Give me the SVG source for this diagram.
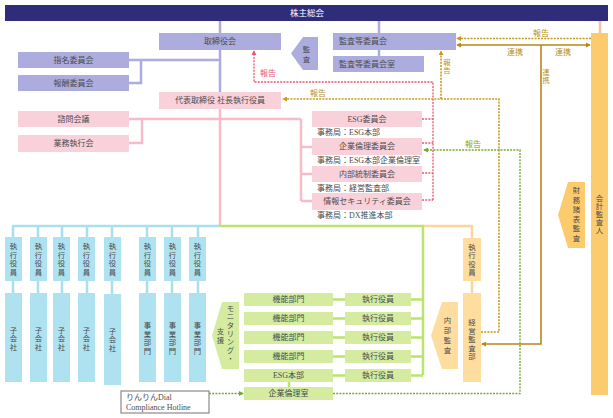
<svg xmlns="http://www.w3.org/2000/svg" width="613" height="418" viewBox="0 0 613 418">
<style>
.t{font-family:"Liberation Serif","Noto Sans CJK JP",serif;font-size:8px;fill:#4d4d4d;text-anchor:middle;dominant-baseline:central}
.s{text-anchor:start}
.vt{font-size:7.4px}
.w{fill:#ffffff;font-size:8.5px}
.pu{fill:#acacdf}
.pk{fill:#f9d1db}
.bl{fill:#aee2f1}
.gr{fill:#d5eca0}
.or{fill:#fccb6e}
.pe{fill:#fedd9f}
.l{fill:none;stroke-width:2.5}
.lpu{stroke:#acacdf}
.lpk{stroke:#f6bcc9}
.lbl{stroke:#a9dff0}
.lgr{stroke:#bce36c}
.lpe{stroke:#fbd59a}
.lsa{stroke:#f8c2a2}
.dg{fill:none;stroke:#c9981f;stroke-width:1.6;stroke-dasharray:2 1.2}
.dr{fill:none;stroke:#e85470;stroke-width:1.3;stroke-dasharray:2 1.2}
.dn{fill:none;stroke:#7aa82c;stroke-width:1.4;stroke-dasharray:2 1.2}
.sg{fill:none;stroke:#b8861c;stroke-width:1.6}
.cg{fill:#b8901e}
.cr{fill:#e85470}
.cn{fill:#7aa82c}
</style>
<defs>
<marker id="ag" viewBox="0 0 6 6" refX="5" refY="3" markerWidth="5" markerHeight="5" markerUnits="userSpaceOnUse" orient="auto-start-reverse"><path d="M0,0 L6,3 L0,6 z" fill="#c9981f"/></marker>
<marker id="as" viewBox="0 0 6 6" refX="5" refY="3" markerWidth="5" markerHeight="5" markerUnits="userSpaceOnUse" orient="auto-start-reverse"><path d="M0,0 L6,3 L0,6 z" fill="#b8861c"/></marker>
<marker id="ar" viewBox="0 0 6 6" refX="5" refY="3" markerWidth="5" markerHeight="5" markerUnits="userSpaceOnUse" orient="auto-start-reverse"><path d="M0,0 L6,3 L0,6 z" fill="#e85470"/></marker>
<marker id="an" viewBox="0 0 6 6" refX="5" refY="3" markerWidth="5" markerHeight="5" markerUnits="userSpaceOnUse" orient="auto-start-reverse"><path d="M0,0 L6,3 L0,6 z" fill="#7aa82c"/></marker>
</defs>
<rect width="613" height="418" fill="#ffffff"/>

<g id="connectors">
<path class="l lpu" d="M220,21 V92 M129,60 H220 M129,83 H141 V60 M379,21 V33 M379,50 V56"/>
<path class="l lsa" d="M600,21 V33"/>
<path class="l lpk" d="M220,109 V226 M129,119 H301 M129,143 H142 V119 M301,119 V201 M301,147 H312 M301,174 H312 M301,201 H312"/>
<path class="l lbl" d="M12,226 H220 M13,226 V237 M38,226 V237 M62,226 V237 M87,226 V237 M112,226 V237 M147,226 V237 M172,226 V237 M198,226 V237 M13,281 V293 M38,281 V293 M62,281 V293 M87,281 V293 M112,281 V294 M147,281 V293 M172,281 V293 M198,281 V293"/>
<path class="l lgr" d="M220,226 H423 V375 M411,299.5 H423 M411,318.5 H423 M411,337.5 H423 M411,356.5 H423 M411,375.5 H423 M333,299.5 H345 M333,318.5 H345 M333,337.5 H345 M333,356.5 H345 M333,375.5 H345 M289,382 V387"/>
<path class="l lpe" d="M424,226 H472 V238 M472,281 V293"/>
<path class="dr" d="M433,200 V82 H254 V51" marker-end="url(#ar)"/>
<path class="dr" d="M422,119 H433 M422,143 H433 M422,173 H433 M422,200 H433"/>
<path class="dg" d="M481,332 H499 V99 H283" marker-end="url(#ag)"/>
<path class="dg" d="M441,99 V51" marker-end="url(#ag)"/>
<path class="dg" d="M591,38.5 H457" marker-end="url(#ag)"/>
<path class="sg" d="M457,45 H590" marker-start="url(#as)" marker-end="url(#as)"/>
<path class="sg" d="M541,45 V344 H482" marker-end="url(#as)"/>
<path class="dn" d="M333,393.5 H520 V150 H424" marker-end="url(#an)"/>
<path class="dn" d="M209,393.5 H243" marker-end="url(#an)"/>
</g>

<g id="labels">
<text class="t cr" x="268" y="73">報告</text>
<text class="t cg" x="318" y="93">報告</text>
<text class="t vt cg"><tspan x="447" y="61.75">報</tspan><tspan x="447" y="70.25">告</tspan></text>
<text class="t cg" x="541" y="33">報告</text>
<text class="t cg" x="515" y="52">連携</text>
<text class="t cg" x="563" y="52">連携</text>
<text class="t vt cg"><tspan x="546" y="71.75">連</tspan><tspan x="546" y="80.25">携</tspan></text>
<text class="t cn" x="473" y="144">報告</text>
</g>

<g id="shareholders"><rect x="5" y="5" width="603" height="16" fill="#2f2d7a"/><text class="t w" x="307" y="13">株主総会</text></g>
<g id="board"><rect class="pu" x="159" y="33" width="122" height="17"/><text class="t" x="220" y="41.5">取締役会</text></g>
<g id="nomination"><rect class="pu" x="18" y="52" width="111" height="16"/><text class="t" x="73.5" y="60">指名委員会</text></g>
<g id="compensation"><rect class="pu" x="18" y="75" width="111" height="16"/><text class="t" x="73.5" y="83">報酬委員会</text></g>
<g id="audit-arrow"><polygon class="pu" points="303,37 318,37 318,70 303,70 291,53.5"/><text class="t vt"><tspan x="306.5" y="48.5">監</tspan><tspan x="306.5" y="58.5">査</tspan></text></g>
<g id="audit-committee"><rect class="pu" x="333" y="33" width="123" height="17"/><text class="t s" x="339" y="41.5">監査等委員会</text></g>
<g id="audit-office"><rect class="pu" x="333" y="56" width="91" height="16"/><text class="t s" x="339" y="64">監査等委員会室</text></g>
<g id="accounting-auditor"><rect class="or" x="591" y="33" width="17" height="362"/><text class="t vt"><tspan x="599.5" y="198">会</tspan><tspan x="599.5" y="206">計</tspan><tspan x="599.5" y="214">監</tspan><tspan x="599.5" y="222">査</tspan><tspan x="599.5" y="230">人</tspan></text></g>
<g id="financial-audit"><polygon class="or" points="568,182 585,182 585,248 568,248 558,215"/><text class="t vt"><tspan x="576.5" y="190.25">財</tspan><tspan x="576.5" y="199.75">務</tspan><tspan x="576.5" y="209.25">諸</tspan><tspan x="576.5" y="218.75">表</tspan><tspan x="576.5" y="228.25">監</tspan><tspan x="576.5" y="237.75">査</tspan></text></g>

<g id="ceo"><rect class="pk" x="159" y="92" width="122" height="17"/><text class="t" x="220" y="100.5">代表取締役 社長執行役員</text></g>
<g id="advisory"><rect class="pk" x="18" y="111" width="111" height="16"/><text class="t" x="73.5" y="119">諮問会議</text></g>
<g id="exec-meeting"><rect class="pk" x="18" y="135" width="111" height="17"/><text class="t" x="73.5" y="143.5">業務執行会</text></g>
<g id="esg-committee"><rect class="pk" x="312" y="111" width="110" height="16"/><text class="t" x="367" y="119">ESG委員会</text><text class="t s" x="317" y="132">事務局：ESG本部</text></g>
<g id="ethics-committee"><rect class="pk" x="312" y="138" width="110" height="17"/><text class="t" x="367" y="146.5">企業倫理委員会</text><text class="t s" x="317" y="160">事務局：ESG本部企業倫理室</text></g>
<g id="control-committee"><rect class="pk" x="312" y="166" width="110" height="16"/><text class="t" x="367" y="174">内部統制委員会</text><text class="t s" x="317" y="188">事務局：経営監査部</text></g>
<g id="security-committee"><rect class="pk" x="312" y="193" width="110" height="17"/><text class="t" x="367" y="201.5">情報セキュリティ委員会</text><text class="t s" x="317" y="215">事務局：DX推進本部</text></g>

<g id="exec1"><rect class="bl" x="5" y="237" width="17" height="44"/><text class="t vt"><tspan x="13.5" y="246.25">執</tspan><tspan x="13.5" y="254.75">行</tspan><tspan x="13.5" y="263.25">役</tspan><tspan x="13.5" y="271.75">員</tspan></text></g>
<g id="exec2"><rect class="bl" x="30" y="237" width="17" height="44"/><text class="t vt"><tspan x="38.5" y="246.25">執</tspan><tspan x="38.5" y="254.75">行</tspan><tspan x="38.5" y="263.25">役</tspan><tspan x="38.5" y="271.75">員</tspan></text></g>
<g id="exec3"><rect class="bl" x="53" y="237" width="17" height="44"/><text class="t vt"><tspan x="61.5" y="246.25">執</tspan><tspan x="61.5" y="254.75">行</tspan><tspan x="61.5" y="263.25">役</tspan><tspan x="61.5" y="271.75">員</tspan></text></g>
<g id="exec4"><rect class="bl" x="78" y="237" width="17" height="44"/><text class="t vt"><tspan x="86.5" y="246.25">執</tspan><tspan x="86.5" y="254.75">行</tspan><tspan x="86.5" y="263.25">役</tspan><tspan x="86.5" y="271.75">員</tspan></text></g>
<g id="exec5"><rect class="bl" x="104" y="237" width="17" height="44"/><text class="t vt"><tspan x="112.5" y="246.25">執</tspan><tspan x="112.5" y="254.75">行</tspan><tspan x="112.5" y="263.25">役</tspan><tspan x="112.5" y="271.75">員</tspan></text></g>
<g id="exec6"><rect class="bl" x="139" y="237" width="17" height="44"/><text class="t vt"><tspan x="147.5" y="246.25">執</tspan><tspan x="147.5" y="254.75">行</tspan><tspan x="147.5" y="263.25">役</tspan><tspan x="147.5" y="271.75">員</tspan></text></g>
<g id="exec7"><rect class="bl" x="164" y="237" width="17" height="44"/><text class="t vt"><tspan x="172.5" y="246.25">執</tspan><tspan x="172.5" y="254.75">行</tspan><tspan x="172.5" y="263.25">役</tspan><tspan x="172.5" y="271.75">員</tspan></text></g>
<g id="exec8"><rect class="bl" x="189" y="237" width="17" height="44"/><text class="t vt"><tspan x="197.5" y="246.25">執</tspan><tspan x="197.5" y="254.75">行</tspan><tspan x="197.5" y="263.25">役</tspan><tspan x="197.5" y="271.75">員</tspan></text></g>
<g id="sub1"><rect class="bl" x="5" y="293" width="17" height="89"/><text class="t vt"><tspan x="13.5" y="329.5">子</tspan><tspan x="13.5" y="338">会</tspan><tspan x="13.5" y="346.5">社</tspan></text></g>
<g id="sub2"><rect class="bl" x="30" y="293" width="17" height="89"/><text class="t vt"><tspan x="38.5" y="329.5">子</tspan><tspan x="38.5" y="338">会</tspan><tspan x="38.5" y="346.5">社</tspan></text></g>
<g id="sub3"><rect class="bl" x="53" y="293" width="17" height="89"/><text class="t vt"><tspan x="61.5" y="329.5">子</tspan><tspan x="61.5" y="338">会</tspan><tspan x="61.5" y="346.5">社</tspan></text></g>
<g id="sub4"><rect class="bl" x="78" y="293" width="17" height="89"/><text class="t vt"><tspan x="86.5" y="329.5">子</tspan><tspan x="86.5" y="338">会</tspan><tspan x="86.5" y="346.5">社</tspan></text></g>
<g id="sub5"><rect class="bl" x="104" y="294" width="17" height="91"/><text class="t vt"><tspan x="112.5" y="330.5">子</tspan><tspan x="112.5" y="339">会</tspan><tspan x="112.5" y="347.5">社</tspan></text></g>
<g id="div1"><rect class="bl" x="139" y="293" width="17" height="89"/><text class="t vt"><tspan x="147.5" y="325.25">事</tspan><tspan x="147.5" y="333.75">業</tspan><tspan x="147.5" y="342.25">部</tspan><tspan x="147.5" y="350.75">門</tspan></text></g>
<g id="div2"><rect class="bl" x="164" y="293" width="17" height="89"/><text class="t vt"><tspan x="172.5" y="325.25">事</tspan><tspan x="172.5" y="333.75">業</tspan><tspan x="172.5" y="342.25">部</tspan><tspan x="172.5" y="350.75">門</tspan></text></g>
<g id="div3"><rect class="bl" x="189" y="293" width="17" height="89"/><text class="t vt"><tspan x="197.5" y="325.25">事</tspan><tspan x="197.5" y="333.75">業</tspan><tspan x="197.5" y="342.25">部</tspan><tspan x="197.5" y="350.75">門</tspan></text></g>

<g id="monitoring"><polygon class="gr" points="222,302 239,302 239,369 222,369 212,335.5"/><text class="t vt"><tspan x="230.5" y="308.1">モ</tspan><tspan x="230.5" y="316.4">ニ</tspan><tspan x="230.5" y="324.7">タ</tspan><tspan x="230.5" y="333">リ</tspan><tspan x="230.5" y="341.3">ン</tspan><tspan x="230.5" y="349.6">グ</tspan><tspan x="230.5" y="357.9">・</tspan></text><text class="t vt"><tspan x="220.5" y="330.5">支</tspan><tspan x="220.5" y="340">援</tspan></text></g>
<g id="func1"><rect class="gr" x="244" y="293" width="89" height="13"/><text class="t" x="288.5" y="299.5">機能部門</text></g>
<g id="func2"><rect class="gr" x="244" y="312" width="89" height="13"/><text class="t" x="288.5" y="318.5">機能部門</text></g>
<g id="func3"><rect class="gr" x="244" y="331" width="89" height="13"/><text class="t" x="288.5" y="337.5">機能部門</text></g>
<g id="func4"><rect class="gr" x="244" y="350" width="89" height="13"/><text class="t" x="288.5" y="356.5">機能部門</text></g>
<g id="esg-hq"><rect class="gr" x="244" y="369" width="89" height="13"/><text class="t" x="288.5" y="375.5">ESG本部</text></g>
<g id="ethics-office"><rect class="gr" x="244" y="387" width="89" height="13"/><text class="t" x="288.5" y="393.5">企業倫理室</text></g>
<g id="gexec1"><rect class="gr" x="345" y="293" width="66" height="13"/><text class="t" x="378" y="299.5">執行役員</text></g>
<g id="gexec2"><rect class="gr" x="345" y="312" width="66" height="13"/><text class="t" x="378" y="318.5">執行役員</text></g>
<g id="gexec3"><rect class="gr" x="345" y="331" width="66" height="13"/><text class="t" x="378" y="337.5">執行役員</text></g>
<g id="gexec4"><rect class="gr" x="345" y="350" width="66" height="13"/><text class="t" x="378" y="356.5">執行役員</text></g>
<g id="gexec5"><rect class="gr" x="345" y="369" width="66" height="13"/><text class="t" x="378" y="375.5">執行役員</text></g>

<g id="internal-audit"><polygon class="pe" points="442,302 458,302 458,369 442,369 431,335.5"/><text class="t vt"><tspan x="447.5" y="320">内</tspan><tspan x="447.5" y="330">部</tspan><tspan x="447.5" y="340">監</tspan><tspan x="447.5" y="350">査</tspan></text></g>
<g id="audit-exec"><rect class="pe" x="463" y="238" width="18" height="43"/><text class="t vt"><tspan x="472" y="246.75">執</tspan><tspan x="472" y="255.25">行</tspan><tspan x="472" y="263.75">役</tspan><tspan x="472" y="272.25">員</tspan></text></g>
<g id="audit-dept"><rect class="pe" x="463" y="293" width="18" height="89"/><text class="t vt"><tspan x="472" y="322">経</tspan><tspan x="472" y="330.5">営</tspan><tspan x="472" y="339">監</tspan><tspan x="472" y="347.5">査</tspan><tspan x="472" y="356">部</tspan></text></g>

<g id="hotline"><rect x="121" y="391" width="88" height="22" fill="#ffffff" stroke="#8a8a8a" stroke-width="1.2"/><text class="t s" x="126" y="397.5">りんりんDial</text><text class="t s" x="126" y="407.5">Compliance Hotline</text></g>
</svg>
